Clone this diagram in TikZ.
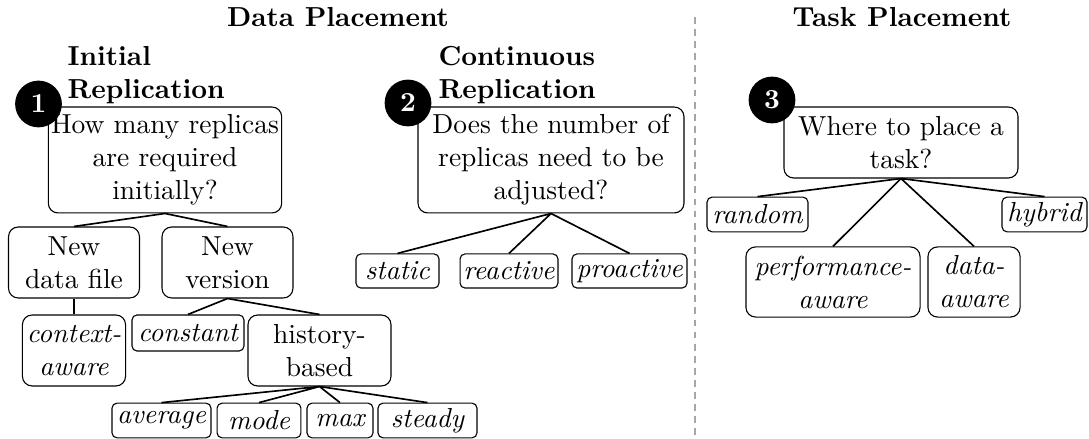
\documentclass[tikz,border=0pt]{standalone}
\usetikzlibrary{positioning}

\begin{document}
\begin{tikzpicture}[x=0.3636pt,y=-0.3636pt,
question/.style={draw,rounded corners=3.5pt,align=center,inner sep=1pt},
option/.style={question,font=\itshape},
choice/.style={draw,rounded corners=1.8pt,font=\itshape,inner sep=1pt,minimum height=12.6pt},
badge/.style={circle,fill=black,text=white,font=\bfseries,minimum size=17pt,inner sep=0pt},
heading/.style={font=\bfseries,align=left,inner sep=0pt,anchor=north west},
link/.style={semithick}]
\useasboundingbox (0,0) rectangle (1089,439);

% Data Placement
\node[font=\bfseries,anchor=base] (dataplacement) at (338,27) {Data Placement};
\node[font=\bfseries,anchor=base] (taskplacement) at (902,27) {Task Placement};

\node[heading] (initial) at (67,46) {Initial\\Replication};
\node[question,minimum width=84.4pt,minimum height=38.5pt] (howmany) at (165,160) {How many replicas\\are required\\initially?};
\node[question,minimum width=47.6pt,minimum height=25.8pt] (newfile) at (74,262.5) {New\\data file};
\node[question,minimum width=47.6pt,minimum height=25.8pt] (newversion) at (227.5,262.5) {New\\version};
\node[option,minimum width=37.5pt,minimum height=25.8pt] (contextaware) at (74,350.5) {context-\\aware};
\node[choice,minimum width=40.7pt,minimum height=13.1pt] (constant) at (188,333) {constant};
\node[question,minimum width=52pt,minimum height=25.8pt] (historybased) at (319.5,350.5) {history-\\based};
\node[choice,minimum width=36pt] (average) at (161.5,420.5) {average};
\node[choice,minimum width=30.5pt] (mode) at (259,420.5) {mode};
\node[choice,minimum width=24pt] (max) at (340,420.5) {max};
\node[choice,minimum width=36pt] (steady) at (427.5,420.5) {steady};

\node[heading] (continuous) at (438,46) {Continuous\\Replication};
\node[question,minimum width=96.7pt,minimum height=38.5pt] (adjust) at (551,160) {Does the number of\\replicas need to be\\adjusted?};
\node[choice,minimum width=30.2pt,minimum height=12.4pt] (static) at (397.5,271) {static};
\node[choice,minimum width=35.6pt,minimum height=12.4pt] (reactive) at (509,271) {reactive};
\node[choice,minimum width=41.8pt,minimum height=12.4pt] (proactive) at (629.5,271) {proactive};

% Task Placement
\node[question,minimum width=85.1pt,minimum height=25.8pt] (where) at (901,142.5) {Where to place a\\task?};
\node[choice,minimum width=36.7pt] (random) at (757.5,214.5) {random};
\node[choice,minimum width=30.9pt] (hybrid) at (1044.5,214.5) {hybrid};
\node[option,minimum width=63.3pt,minimum height=25.5pt] (performance) at (833,282) {performance-\\aware};
\node[option,minimum width=33.5pt,minimum height=25.5pt] (dataaware) at (974,282) {data-\\aware};

\draw[link] (howmany.south) -- (newfile.north) (howmany.south) -- (newversion.north);
\draw[link] (newfile.south) -- (contextaware.north);
\draw[link] (newversion.south) -- (constant.north) (newversion.south) -- (historybased.north);
\draw[link] (historybased.south) -- (average.north) (historybased.south) -- (mode.north)
            (historybased.south) -- (max.north) (historybased.south) -- (steady.north);
\draw[link] (adjust.south) -- (static.north) (adjust.south) -- (reactive.north)
            (adjust.south) -- (proactive.north);
\draw[link] (where.south) -- (random.north) (where.south) -- (performance.north)
            (where.south) -- (dataaware.north) (where.south) -- (hybrid.north);

\node[badge] (one) at (38.5,104) {1};
\node[badge] (two) at (408,103) {2};
\node[badge] (three) at (772,100) {3};

\coordinate (divtop) at (695,17);
\coordinate (divbottom) at (695,439);
\draw[gray!70,dash pattern=on 2.5pt off 1.9pt] (divtop) -- (divbottom);
\end{tikzpicture}
\end{document}
